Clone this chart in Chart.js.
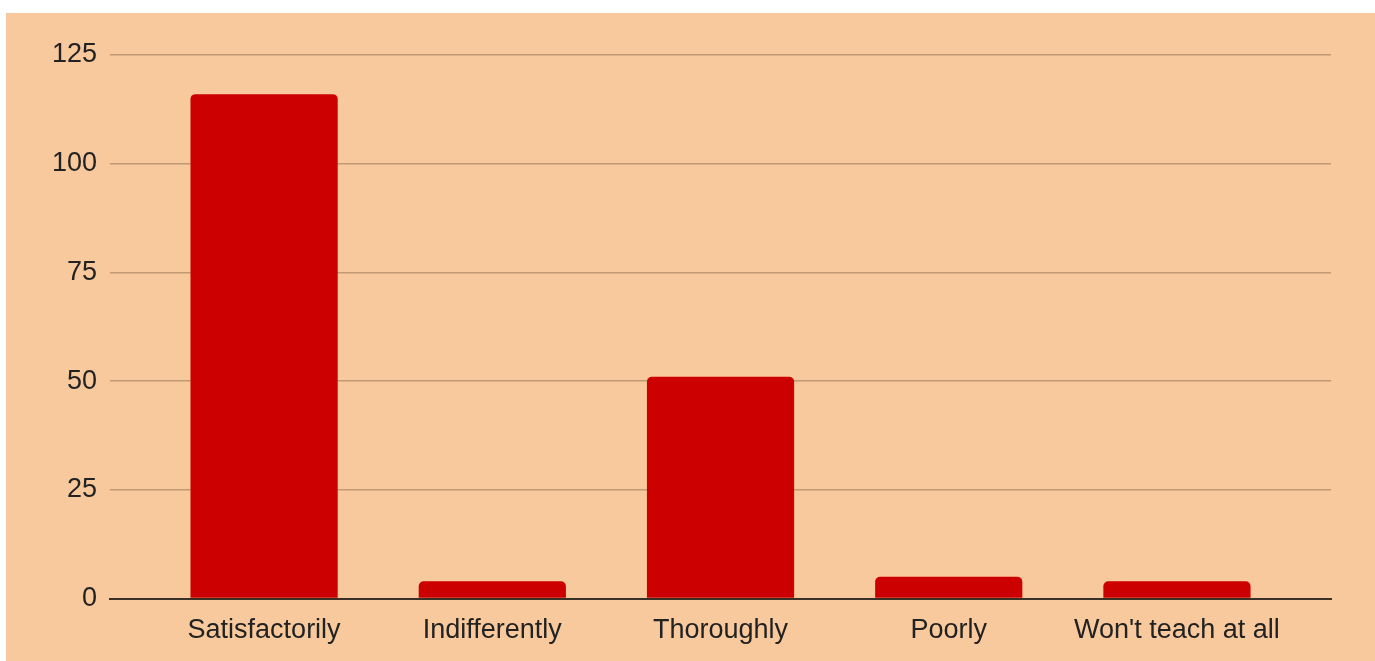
<!DOCTYPE html>
<html>
<head>
<meta charset="utf-8">
<script src="https://cdn.jsdelivr.net/npm/chart.js@4"></script>
<style>
  html, body { margin: 0; padding: 0; background: #ffffff; }
  #wrap {
    position: absolute;
    left: 6px; top: 13px;
    width: 1369px; height: 648px;
    background: #f8c99c;
  }
</style>
</head>
<body>
<div id="wrap"><canvas id="barChart"></canvas></div>
<script>
// data
const categories = ['Satisfactorily', 'Indifferently', 'Thoroughly', 'Poorly', "Won't teach at all"];
const counts = [116, 4, 51, 5, 4];
const yTicks = [0, 25, 50, 75, 100, 125];

const points = counts.map((v, i) => ({ x: i, y: v }));
const labelFont = { family: "'Liberation Sans', Arial, sans-serif", size: 27 };

new Chart(document.getElementById('barChart'), {
    type: 'bar',
    data: {
        datasets: [{
            data: points,
            backgroundColor: '#cc0000',
            borderRadius: 5,
            borderSkipped: 'start',
            categoryPercentage: 1,
            barPercentage: 0.645
        }]
    },
    options: {
        responsive: true,
        maintainAspectRatio: false,
        animation: false,
        layout: { padding: { top: 42, right: 44, bottom: 6, left: 33 } },
        plugins: { legend: { display: false }, tooltip: { enabled: false } },
        scales: {
            x: {
                type: 'linear',
                offset: false,
                min: -0.675,
                max: 4.675,
                afterBuildTicks: axis => { axis.ticks = categories.map((c, i) => ({ value: i })); },
                grid: { display: false },
                border: { display: true, color: '#3a3028', width: 2 },
                ticks: {
                    color: '#222222',
                    font: labelFont,
                    padding: 8,
                    maxRotation: 0,
                    autoSkip: false,
                    callback: v => categories[v]
                }
            },
            y: {
                min: 0,
                max: 125,
                afterBuildTicks: axis => { axis.ticks = yTicks.map(v => ({ value: v })); },
                grid: { color: '#bf9a74', lineWidth: 1.5, drawTicks: false },
                border: { display: false },
                ticks: {
                    color: '#222222',
                    font: labelFont,
                    padding: 13
                }
            }
        }
    }
});
</script>
</body>
</html>
